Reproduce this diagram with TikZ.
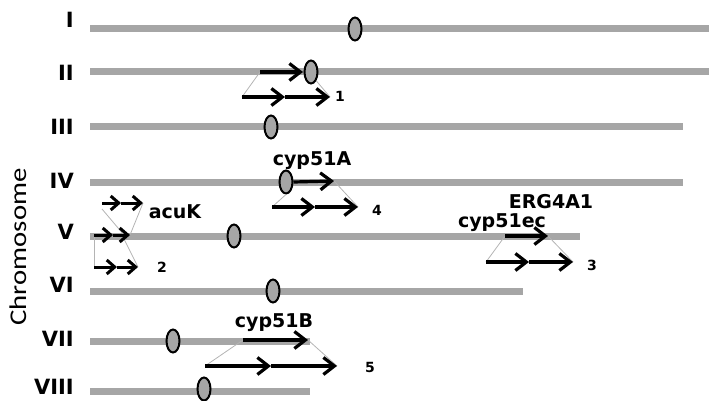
\documentclass[tikz,border=0pt]{standalone}
\usepackage{fontspec}
\setmainfont{DejaVu Sans}
\newfontfamily\axisfont[FakeStretch=1.2]{Carlito}
\usetikzlibrary{arrows.meta,shapes.geometric}
\definecolor{chromgray}{HTML}{A6A6A6}
\definecolor{linkgray}{HTML}{B4B4B4}
\tikzset{
  chrom/.style={line width=7pt,chromgray},
  centro/.style={draw,ellipse,line width=2pt,fill=chromgray,minimum width=13pt,minimum height=23pt,inner sep=0pt},
  gene/.style={line width=3.2pt,-{Straight Barb[length=11pt,width=17pt]}},
  smallgene/.style={line width=3pt,-{Straight Barb[length=8pt,width=14pt]}},
  link/.style={linkgray,line width=0.8pt},
  numlabel/.style={anchor=east,inner sep=1pt,font=\bfseries\fontsize{21}{21}\selectfont},
  genelabel/.style={anchor=base,font=\bfseries\fontsize{19}{19}\selectfont},
  copylabel/.style={anchor=base,font=\bfseries\fontsize{14}{14}\selectfont}
}
\begin{document}
\begin{tikzpicture}[x=1pt,y=-1pt]
        \useasboundingbox (0,0) rectangle (709,401);
        %% chromosomes
        \foreach \name/\ly/\y/\xend in {I/20/29/709, II/73/72/709, III/127/127/683, IV/181/182/683,
            V/232/236/580, VI/285/291/523, VII/339/341/310, VIII/387/391/310} {
          \node[numlabel] (lbl\name) at (75,\ly) {\name};
          \coordinate (s\name) at (90,\y);
          \coordinate (e\name) at (\xend,\y);
          \draw[chrom] (s\name) -- (e\name);
        }
        \node[rotate=90,font=\axisfont\fontsize{24}{24}\selectfont] (axis) at (18,247) {Chromosome};
        %% gene positions
        \coordinate (g1a) at (260,72);  \coordinate (g1b) at (303,72);
        \coordinate (d1a) at (242,97);  \coordinate (d1b) at (285,97);  \coordinate (d1c) at (330,97);
        \coordinate (g4b) at (334,181);
        \coordinate (d4a) at (272,207); \coordinate (d4b) at (315,207); \coordinate (d4c) at (358,207);
        \coordinate (km1) at (94,235);  \coordinate (km2) at (113,235); \coordinate (km3) at (130,235);
        \coordinate (kt1) at (102,203); \coordinate (kt2) at (121,203); \coordinate (kt3) at (143,203);
        \coordinate (kb1) at (94,267);  \coordinate (kb2) at (117,267); \coordinate (kb3) at (138,267);
        \coordinate (g3a) at (505,236); \coordinate (g3b) at (548,236);
        \coordinate (d3a) at (486,262); \coordinate (d3b) at (529,262); \coordinate (d3c) at (573,262);
        \coordinate (g5a) at (243,340); \coordinate (g5b) at (308,340);
        \coordinate (d5a) at (205,366); \coordinate (d5b) at (271,366); \coordinate (d5c) at (337,366);
        %% centromeres
        \node[centro] (cenI) at (355,29) {};
        \node[centro] (cenII) at (311,72) {};
        \node[centro] (cenIII) at (271,127) {};
        \node[centro] (cenIV) at (286,182) {};
        \node[centro] (cenV) at (234,236) {};
        \node[centro] (cenVI) at (273,291) {};
        \node[centro] (cenVII) at (173,341) {};
        \node[centro] (cenVIII) at (204,389) {};
        %% links
        \draw[link] (g1a) -- (d1a);
        \draw[link] (cenII.south east) -- (d1c);
        \draw[link] (cenIV.south) -- (d4a);
        \draw[link] (g4b) -- (d4c);
        \draw[link] ([yshift=-6pt]kt1) -- ([xshift=-6pt]km3);
        \draw[link] (kt3) -- (km3);
        \draw[link] ([xshift=-8pt]km3) -- (kb3);
        \draw[link] (km1) -- (kb1);
        \draw[link] (g3a) -- (d3a);
        \draw[link] (g3b) -- (d3c);
        \draw[link] (g5a) -- (d5a);
        \draw[link] (g5b) -- (d5c);
        %% genes
        \draw[gene] (g1a) -- (g1b);
        \draw[gene] (d1a) -- (d1b);
        \draw[gene] (d1b) -- (d1c);
        \draw[gene] (cenIV.east) -- (g4b);
        \draw[gene] (d4a) -- (d4b);
        \draw[gene] (d4b) -- (d4c);
        \draw[smallgene] (km1) -- (km2);
        \draw[smallgene] (km2) -- (km3);
        \draw[smallgene] (kt1) -- (kt2);
        \draw[smallgene] (kt2) -- (kt3);
        \draw[smallgene] (kb1) -- (kb2);
        \draw[smallgene] (kb2) -- (kb3);
        \draw[gene] (g3a) -- (g3b);
        \draw[gene] (d3a) -- (d3b);
        \draw[gene] (d3b) -- (d3c);
        \draw[gene] (g5a) -- (g5b);
        \draw[gene] (d5a) -- (d5b);
        \draw[gene] (d5b) -- (d5c);
        %% labels
        \node[genelabel] (cypA) at (312,165) {cyp51A};
        \node[genelabel] (acuK) at (175,218) {acuK};
        \node[genelabel] (erg) at (551,208) {ERG4A1};
        \node[genelabel] (cypec) at (502,227) {cyp51ec};
        \node[genelabel] (cypB) at (274,327) {cyp51B};
        \node[copylabel] (n1) at (340,102) {1};
        \node[copylabel] (n2) at (162,272) {2};
        \node[copylabel] (n3) at (592,270) {3};
        \node[copylabel] (n4) at (377,215) {4};
        \node[copylabel] (n5) at (370,372) {5};
    \end{tikzpicture}
\end{document}
